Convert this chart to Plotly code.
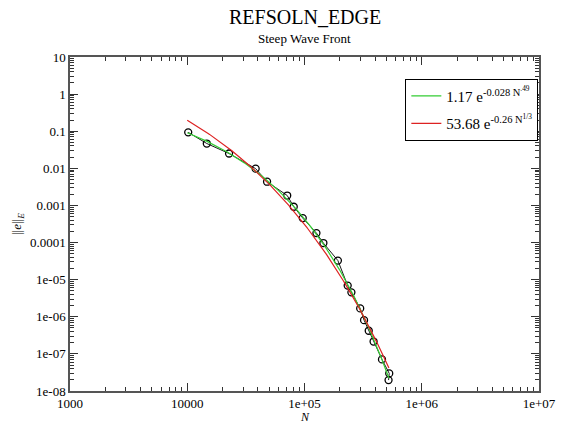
import numpy as np
import plotly.graph_objects as go

# Data
dofs = [10190, 14680, 22730, 38310, 47950, 71220, 80960, 96600, 126400, 144900,
        192700, 233500, 251200, 298500, 322000, 353000, 388400, 458000, 528000, 521000]
err = [0.0933, 0.0466, 0.0251, 0.00982, 0.00436, 0.00185, 0.000923, 0.000457, 0.000180, 9.7e-5,
       3.27e-5, 6.93e-6, 4.55e-6, 1.68e-6, 8.1e-7, 4.2e-7, 2.15e-7, 7.1e-8, 2.98e-8, 1.97e-8]

# Fit coefficients shown in the legend
fit1_a, fit1_b, fit1_p = 1.17, 0.028, 0.49
fit2_a, fit2_b, fit2_p = 53.68, 0.26, 1.0 / 3.0
fit_range = [10000, 525000]

x_tickvals = [1e3, 1e4, 1e5, 1e6, 1e7]
x_ticktext = ["1000", "10000", "1e+05", "1e+06", "1e+07"]
y_tickvals = [10, 1, 0.1, 0.01, 0.001, 0.0001, 1e-5, 1e-6, 1e-7, 1e-8]
y_ticktext = ["10", "1", "0.1", "0.01", "0.001", "0.0001", "1e-05", "1e-06", "1e-07", "1e-08"]

x_minor = [k * 10.0 ** d for d in range(3, 7) for k in range(2, 10)]
y_minor = [k * 10.0 ** d for d in range(-8, 1) for k in range(2, 10)]

nfit = np.logspace(np.log10(fit_range[0]), np.log10(fit_range[1]), 200)
fit1 = fit1_a * np.exp(-fit1_b * nfit ** fit1_p)
fit2 = fit2_a * np.exp(-fit2_b * nfit ** fit2_p)

font = "Liberation Serif, Times New Roman, serif"

fig = go.Figure()
fig.add_trace(go.Scatter(x=dofs, y=err, mode="lines+markers",
                         line=dict(color="#1a1a1a", width=1),
                         marker=dict(symbol="circle-open", size=7, color="black", line=dict(width=1.3)),
                         showlegend=False))
fig.add_trace(go.Scatter(x=nfit, y=fit1, mode="lines", line=dict(color="#33cc33", width=1.2),
                         name="1.17 e<sup>-0.028 N<sup>.49</sup></sup>", legendgroup="g1"))
fig.add_trace(go.Scatter(x=nfit, y=fit2, mode="lines", line=dict(color="#dd2222", width=1.2),
                         name="53.68 e<sup>-0.26 N<sup>1/3</sup></sup>", legendgroup="g2"))

axis_common = dict(type="log", showgrid=False, zeroline=False, showline=True,
                   linecolor="#555555", linewidth=1.5, mirror="ticks",
                   ticks="inside", ticklen=8, tickcolor="#333333", tickwidth=1.2,
                   tickfont=dict(family=font, size=13, color="black"))

fig.update_xaxes(range=[3, 7], tickvals=x_tickvals, ticktext=x_ticktext,
                 minor=dict(tickmode="array", tickvals=x_minor, ticks="inside", ticklen=4,
                            tickcolor="#333333", tickwidth=1, showgrid=False),
                 **axis_common)
fig.update_yaxes(range=[-8, 1], tickvals=y_tickvals, ticktext=y_ticktext,
                 minor=dict(tickmode="array", tickvals=y_minor, ticks="inside", ticklen=4,
                            tickcolor="#333333", tickwidth=1, showgrid=False),
                 **axis_common)

fig.update_layout(
    width=568, height=423,
    margin=dict(l=70, r=18, t=57, b=32),
    paper_bgcolor="white", plot_bgcolor="white",
    font=dict(family=font, color="black"),
    showlegend=True,
    legend=dict(x=0.715, y=0.935, xanchor="left", yanchor="top",
                bgcolor="white", bordercolor="black", borderwidth=1,
                font=dict(family=font, size=15, color="black"),
                itemwidth=30, tracegroupgap=5),
    annotations=[
        dict(text="REFSOLN_EDGE", x=0.5, y=1, xref="paper", yref="paper", yanchor="bottom",
             yshift=27, showarrow=False, font=dict(family=font, size=20, color="black")),
        dict(text="Steep Wave Front", x=0.5, y=1, xref="paper", yref="paper", yanchor="bottom",
             yshift=9, showarrow=False, font=dict(family=font, size=13, color="black")),
        dict(text="<i>N</i>", x=0.5, y=0, xref="paper", yref="paper", yanchor="top",
             yshift=-17, showarrow=False, font=dict(family=font, size=12, color="black")),
        dict(text="||<i>e</i>||<sub><i>E</i></sub>", x=0, y=0.5, xref="paper", yref="paper",
             xanchor="center", yanchor="middle", xshift=-53, textangle=-90,
             showarrow=False, font=dict(family=font, size=13, color="black")),
    ],
)

fig.write_html("out.html", config={"displayModeBar": False},
               post_script="document.body.style.margin='0';")
